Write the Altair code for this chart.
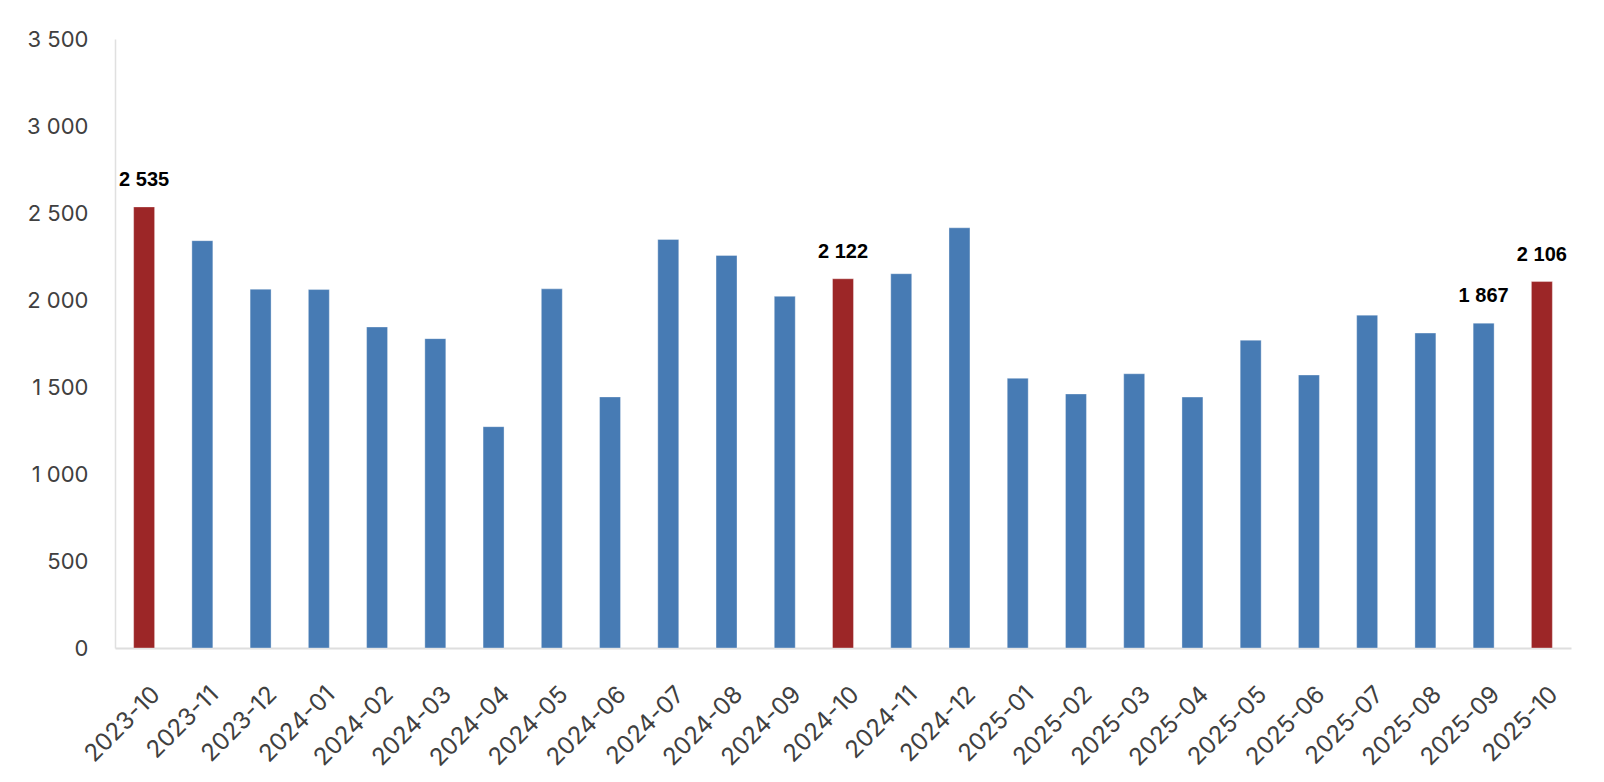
import pandas as pd
import altair as alt

months = [
    "2023-10", "2023-11", "2023-12", "2024-01", "2024-02", "2024-03", "2024-04",
    "2024-05", "2024-06", "2024-07", "2024-08", "2024-09", "2024-10", "2024-11",
    "2024-12", "2025-01", "2025-02", "2025-03", "2025-04", "2025-05", "2025-06",
    "2025-07", "2025-08", "2025-09", "2025-10",
]
counts = [
    2535, 2341, 2062, 2060, 1845, 1778, 1272,
    2064, 1443, 2348, 2256, 2021, 2122, 2151,
    2415, 1550, 1460, 1576, 1442, 1769, 1569,
    1913, 1810, 1867, 2106,
]
# months drawn in red, and months that get a value label
red_months = ["2023-10", "2024-10", "2025-10"]
labelled_months = ["2023-10", "2024-10", "2025-09", "2025-10"]

df = pd.DataFrame({"month": months, "count": counts})
df["red"] = df["month"].isin(red_months)
df["label"] = [
    f"{v:,}".replace(",", " ") if m in labelled_months else ""
    for m, v in zip(months, counts)
]

axis_font = "Inter"
label_font = "Liberation Sans"

base = alt.Chart(df).encode(
    x=alt.X(
        "month:N",
        sort=months,
        title=None,
        scale=alt.Scale(paddingInner=0.64, paddingOuter=0.32),
        axis=alt.Axis(
            labelAngle=-45,
            labelAlign="right",
            labelBaseline="top",
            labelFontSize=24,
            labelColor="#404040",
            labelFont=axis_font,
            labelPadding=34,
            labelOffset=4,
            ticks=False,
            domainColor="#dedede",
            domainWidth=2,
        ),
    ),
    y=alt.Y(
        "count:Q",
        title=None,
        scale=alt.Scale(domain=[0, 3500]),
        axis=alt.Axis(
            values=[0, 500, 1000, 1500, 2000, 2500, 3000, 3500],
            labelExpr="replace(format(datum.value, ','), ',', ' ')",
            labelFontSize=22,
            labelColor="#404040",
            labelFont=axis_font,
            labelPadding=27,
            minExtent=102,
            ticks=False,
            grid=False,
            domainColor="#e0e0e0",
            domainWidth=1.5,
        ),
    ),
)

bars = base.mark_bar(stroke="#ffffff", strokeOpacity=0.35, strokeWidth=1).encode(
    color=alt.condition(alt.datum.red, alt.value("#9c2627"), alt.value("#477bb4"))
)

labels = base.mark_text(
    baseline="alphabetic", dy=-21, fontSize=20, fontWeight="bold",
    font=label_font, color="#000000"
).encode(text="label:N")

chart = (
    alt.layer(bars, labels)
    .properties(
        width=1456,
        height=609,
        padding={"left": 5, "top": 20, "right": 5, "bottom": 5},
    )
    .configure_view(stroke=None)
)

chart.save("out.html", embed_options={"renderer": "svg", "actions": False})
